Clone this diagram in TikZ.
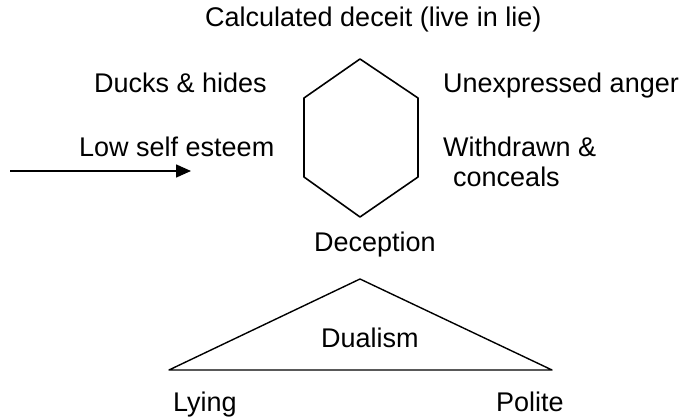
\documentclass[tikz,border=0pt]{standalone}
\usepackage{fontspec}
\setmainfont{Liberation Sans}
\usepackage{tikz}
\usetikzlibrary{calc, arrows.meta}
\usepackage{tkz-euclide}
\tikzset{lbl/.style={inner sep=0pt, anchor=base west, font=\fontsize{27}{32}\selectfont}}

\begin{document}
\begin{tikzpicture}[x=1pt, y=-1pt]
                \useasboundingbox (0,0) rectangle (691,419);
                \tkzDefPoints{360/59/H1, 418/98/H2, 418/177/H3, 360/217/H4, 304/177/H5, 304/98/H6}
                \tkzDrawPolygon[black, line width=1.6pt](H1,H2,H3,H4,H5,H6)
                \tkzDefPoints{169/370/L, 360/279/T, 552/370/R}
                \tkzDrawPolygon[black, line width=1.4pt](L,T,R)
                \tkzDefPoints{10/171/S, 191/171/E}
                \draw[black, line width=1.6pt, -{Triangle[length=15pt, width=13pt]}] (S) -- (E);
                % labels
                \node[lbl] (calc) at (205,27) {Calculated deceit (live in lie)};
                \node[lbl] (ducks) at (94,93) {Ducks \& hides};
                \node[lbl] (anger) at (443,93) {Unexpressed anger};
                \node[lbl] (esteem) at (79,157) {Low self esteem};
                \node[lbl] (withdrawn) at (443,157) {Withdrawn \&};
                \node[lbl] (conceals) at (453,187) {conceals};
                \node[lbl] (deception) at (314,252) {Deception};
                \node[lbl] (dualism) at (321,348) {Dualism};
                \node[lbl] (lying) at (173,412) {Lying};
                \node[lbl] (polite) at (496,412) {Polite};
            \end{tikzpicture}
\end{document}
